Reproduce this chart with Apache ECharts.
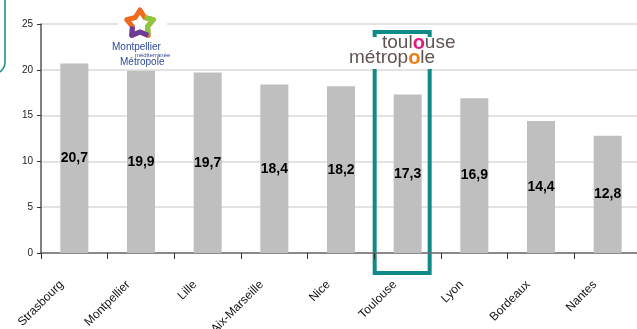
<!DOCTYPE html>
<html>
<head>
<meta charset="utf-8">
<script src="https://cdn.jsdelivr.net/npm/echarts@6/dist/echarts.min.js"></script>
<style>
  html, body { margin: 0; padding: 0; background: #fff; }
  #chart { width: 637px; height: 329px; }
</style>
</head>
<body>
<div id="chart"></div>
<script>
// 城市 / 数值
const cities = ['Strasbourg', 'Montpellier', 'Lille', 'Aix-Marseille', 'Nice', 'Toulouse', 'Lyon', 'Bordeaux', 'Nantes']
const values = [20.7, 19.9, 19.7, 18.4, 18.2, 17.3, 16.9, 14.4, 12.8]
const yTicks = [0, 5, 10, 15, 20, 25]
const highlightCity = 'Toulouse'

const chart = echarts.init(document.getElementById('chart'))

// star points for the Montpellier logo (decoration)
const starPoints = (cx, cy, ro, ri) => {
  const pts = []
  for (let i = 0; i < 10; i++) {
    const a = -Math.PI / 2 + (i * Math.PI) / 5
    const r = i % 2 === 0 ? ro : ri
    pts.push([cx + r * Math.cos(a), cy + r * Math.sin(a)])
  }
  return pts
}
const sp = starPoints(140, 24, 14, 8)

chart.setOption({
  animation: false,
  textStyle: { fontFamily: 'Liberation Sans, Arial, sans-serif' },
  grid: { left: 41, top: 24, bottom: 76, width: 600, containLabel: false, outerBoundsMode: 'none' },
  xAxis: {
    type: 'category',
    data: cities,
    axisLine: { lineStyle: { color: '#6e6e6e', width: 1.5 } },
    axisTick: { show: true, length: 6, lineStyle: { color: '#333' } },
    axisLabel: {
      rotate: 45,
      margin: 17,
      color: '#111',
      fontSize: 12,
      interval: 0,
      padding: [0, 18, 0, 0]
    }
  },
  yAxis: {
    type: 'value',
    min: yTicks[0],
    max: yTicks[yTicks.length - 1],
    interval: 5,
    axisLine: { show: true, lineStyle: { color: '#555', width: 1.5 } },
    axisTick: { show: true, length: 4, lineStyle: { color: '#333' } },
    axisLabel: { color: '#222', fontSize: 10, margin: 8 },
    splitLine: { lineStyle: { color: '#dadada', width: 1.5 } }
  },
  series: [
    {
      type: 'bar',
      data: values,
      barWidth: 28,
      itemStyle: { color: '#bfbfbf' },
      label: {
        show: true,
        position: 'inside',
        color: '#000',
        fontWeight: 'bold',
        fontSize: 14,
        formatter: (p) => String(p.value).replace('.', ',')
      }
    }
  ]
})

// 装饰：Toulouse 高亮框、logo 等
const draw = () => {
  const idx = cities.indexOf(highlightCity)
  const c = chart.convertToPixel({ xAxisIndex: 0 }, idx)
  const yTop = chart.convertToPixel({ yAxisIndex: 0 }, 25) + 8
  const yBot = chart.convertToPixel({ yAxisIndex: 0 }, 0) + 20
  const font = '"Liberation Sans", Arial'
  chart.setOption({
    graphic: [
      {
        type: 'rect',
        shape: { x: -200, y: -20, width: 205, height: 94, r: 12 },
        style: { fill: 'none', stroke: '#138a85', lineWidth: 1.5 }
      },
      {
        type: 'rect',
        shape: { x: 118, y: 4, width: 49, height: 64 },
        style: { fill: '#fff' }
      },
      {
        type: 'polygon',
        shape: { points: sp },
        style: { fill: 'none', stroke: '#ef6a1e', lineWidth: 5, lineJoin: 'round' }
      },
      {
        type: 'polyline',
        shape: { points: [sp[1], sp[2], sp[3], sp[4]] },
        style: { stroke: '#8dc63f', lineWidth: 5, lineJoin: 'round' }
      },
      {
        type: 'polyline',
        shape: { points: [sp[4], sp[5], sp[6], sp[7]] },
        style: { stroke: '#6a3c97', lineWidth: 5, lineJoin: 'round' }
      },
      {
        type: 'text',
        x: 112, y: 42,
        style: { text: 'Montpellier', fill: '#2c4a9c', font: '10px ' + font }
      },
      {
        type: 'text',
        x: 135, y: 52,
        style: { text: 'méditerranée', fill: '#2c4a9c', font: '6px ' + font }
      },
      {
        type: 'text',
        x: 120, y: 57,
        style: { text: 'Métropole', fill: '#2c4a9c', font: '10px ' + font }
      },
      {
        type: 'rect',
        shape: { x: c - 33, y: yTop, width: 55, height: yBot - yTop },
        style: { fill: 'none', stroke: '#0f8a86', lineWidth: 4 }
      },
      {
        type: 'rect',
        shape: { x: 346, y: 37, width: 114, height: 32 },
        style: { fill: '#fff' }
      },
      {
        type: 'text',
        x: 382, y: 33,
        style: {
          text: '{a|toul}{p|o}{a|use}',
          rich: {
            a: { fill: '#5f5452', fontFamily: 'Liberation Sans', fontSize: 19 },
            p: { fill: '#e5197d', fontFamily: 'Liberation Sans', fontSize: 20, fontWeight: 'bold' }
          }
        }
      },
      {
        type: 'text',
        x: 349, y: 48,
        style: {
          text: '{a|métrop}{o|o}{a|le}',
          rich: {
            a: { fill: '#5f5452', fontFamily: 'Liberation Sans', fontSize: 19 },
            o: { fill: '#f07d12', fontFamily: 'Liberation Sans', fontSize: 20, fontWeight: 'bold' }
          }
        }
      }
    ]
  })
}
draw()
</script>
</body>
</html>
